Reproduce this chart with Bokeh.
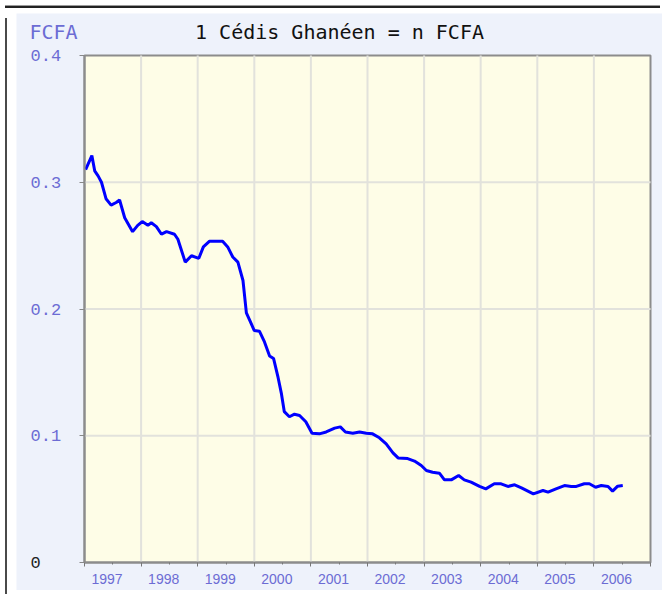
from bokeh.plotting import figure
from bokeh.models import Label, FixedTicker, Range1d, Div, CustomJSTickFormatter, LinearAxis
from bokeh.layouts import column, row
from bokeh.embed import file_html
from bokeh.resources import INLINE

# ---- data ----
dates = [1997.02, 1997.13, 1997.18, 1997.24, 1997.30, 1997.38, 1997.47, 1997.56, 1997.62, 1997.71,
         1997.85, 1997.94, 1998.02, 1998.12, 1998.18, 1998.27, 1998.36, 1998.45, 1998.59, 1998.65,
         1998.78, 1998.89, 1999.02, 1999.10, 1999.21, 1999.44, 1999.53, 1999.62, 1999.71, 1999.80,
         1999.86, 1999.92, 2000.00, 2000.09, 2000.18, 2000.27, 2000.34, 2000.42, 2000.48, 2000.53,
         2000.62, 2000.71, 2000.80, 2000.91, 2001.02, 2001.15, 2001.27, 2001.42, 2001.52, 2001.61,
         2001.74, 2001.86, 2001.98, 2002.09, 2002.21, 2002.33, 2002.45, 2002.54, 2002.71, 2002.83,
         2002.95, 2003.04, 2003.15, 2003.27, 2003.36, 2003.48, 2003.61, 2003.71, 2003.83, 2003.98,
         2004.09, 2004.24, 2004.36, 2004.48, 2004.60, 2004.72, 2004.93, 2005.10, 2005.19, 2005.33,
         2005.48, 2005.60, 2005.69, 2005.83, 2005.92, 2006.03, 2006.13, 2006.25, 2006.33, 2006.42,
         2006.51]
rates = [0.310, 0.321, 0.309, 0.305, 0.300, 0.287, 0.282, 0.284, 0.286, 0.272,
         0.261, 0.266, 0.269, 0.266, 0.268, 0.265, 0.259, 0.261, 0.259, 0.255,
         0.237, 0.242, 0.240, 0.249, 0.2535, 0.2535, 0.249, 0.241, 0.237, 0.2225,
         0.197, 0.191, 0.183, 0.1825, 0.174, 0.163, 0.161, 0.146, 0.133, 0.119,
         0.115, 0.117, 0.116, 0.111, 0.102, 0.1015, 0.103, 0.106, 0.107, 0.103,
         0.102, 0.103, 0.102, 0.1015, 0.0984, 0.0936, 0.0865, 0.0825, 0.082, 0.080,
         0.0765, 0.0726, 0.0712, 0.0705, 0.0652, 0.0652, 0.0686, 0.0652, 0.0634, 0.0600,
         0.0581, 0.0621, 0.0621, 0.0600, 0.0613, 0.0589, 0.0542, 0.0568, 0.0555, 0.0581,
         0.0607, 0.0600, 0.0600, 0.0621, 0.0621, 0.0594, 0.0607, 0.0600, 0.0563, 0.0602,
         0.0607]

year_bounds = list(range(1997, 2008))
year_mids = [y + 0.5 for y in range(1997, 2007)]
year_labels = [str(y) for y in range(1997, 2007)]
y_ticks = [0, 0.1, 0.2, 0.3, 0.4]
y_labels = ["0", "0.1", "0.2", "0.3", "0.4"]
title_text = "1 Cédis Ghanéen = n FCFA"
unit_text = "FCFA"

X_MIN, X_MAX = 1997, 2007
Y_MIN, Y_MAX = 0, 0.4

# ---- layout / style ----
PANEL = "#eef2fb"
PLOTBG = "#fefde7"
LABEL_BLUE = "#6c6cd4"
FRAME_GREY = "#8c8c8c"

FIG_W, FIG_H = 646, 577
M_LEFT, M_RIGHT, M_TOP, M_BOTTOM = 68, 12, 42, 28      # margins around the plotting area
AREA_W = FIG_W - M_LEFT - M_RIGHT
AREA_H = FIG_H - M_TOP - M_BOTTOM
xs = (X_MAX - X_MIN) / AREA_W
ys = (Y_MAX - Y_MIN) / AREA_H

p = figure(width=FIG_W, height=FIG_H,
           x_range=Range1d(X_MIN - M_LEFT * xs, X_MAX + M_RIGHT * xs),
           y_range=Range1d(Y_MIN - M_BOTTOM * ys, Y_MAX + M_TOP * ys),
           output_backend="svg", toolbar_location=None, title=None,
           x_axis_type=None, y_axis_type=None,
           min_border=0, border_fill_color=PANEL, background_fill_color=PANEL)
p.outline_line_color = None
p.grid.visible = False

# plotting area
p.quad(left=[X_MIN], right=[X_MAX], bottom=[Y_MIN], top=[Y_MAX],
       fill_color=PLOTBG, line_color=FRAME_GREY, line_width=2)

# grid lines
gx = year_bounds[1:-1]
p.segment(x0=gx, y0=[Y_MIN] * len(gx), x1=gx, y1=[Y_MAX] * len(gx),
          line_color="#e2e2dc", line_width=2)
gy = y_ticks[1:-1]
p.segment(x0=[X_MIN] * len(gy), y0=gy, x1=[X_MAX] * len(gy), y1=gy,
          line_color="#e2e2dc", line_width=2)

p.line(dates, rates, line_color="#0000ff", line_width=3)

empty = CustomJSTickFormatter(code="return ''")

xaxis = LinearAxis(fixed_location=Y_MIN, bounds=(X_MIN, X_MAX),
                   ticker=FixedTicker(ticks=year_bounds, minor_ticks=year_mids),
                   formatter=empty,
                   axis_line_color=FRAME_GREY, axis_line_width=2,
                   major_tick_line_color="#777777", major_tick_out=4, major_tick_in=0,
                   minor_tick_line_color="#777777", minor_tick_out=2, minor_tick_in=0)
p.add_layout(xaxis, "below")

yaxis = LinearAxis(fixed_location=X_MIN, bounds=(Y_MIN, Y_MAX),
                   ticker=FixedTicker(ticks=y_ticks), formatter=empty,
                   axis_line_color=FRAME_GREY, axis_line_width=2,
                   major_tick_line_color="#888888", major_tick_out=5, major_tick_in=0,
                   minor_tick_line_color=None)
p.add_layout(yaxis, "left")

# texts (screen units measured from the canvas' bottom-left corner)
TITLE_Y = FIG_H - 18
p.add_layout(Label(x=FIG_W / 2, y=TITLE_Y, x_units="screen", y_units="screen", text=title_text,
                   text_align="center", text_baseline="middle",
                   text_font="DejaVu Sans Mono", text_font_size="20px", text_color="#111111"))
p.add_layout(Label(x=13, y=TITLE_Y, x_units="screen", y_units="screen", text=unit_text,
                   text_align="left", text_baseline="middle",
                   text_font="DejaVu Sans Mono", text_font_size="20px", text_color=LABEL_BLUE))

for v, t in zip(y_ticks, y_labels):
    p.add_layout(Label(x=14, y=v, x_units="screen", y_units="data", text=t,
                       text_align="left", text_baseline="middle",
                       text_font="Liberation Mono", text_font_size="17px",
                       text_color="#222222" if v == 0 else LABEL_BLUE))

for yr, t in zip(year_bounds, year_labels):
    p.add_layout(Label(x=yr, y=M_BOTTOM - 16, x_units="data", y_units="screen", x_offset=7,
                       text=t, text_align="left", text_baseline="middle",
                       text_font="Liberation Sans", text_font_size="14px",
                       text_color=LABEL_BLUE))

top_bar = Div(width=655, height=2, styles={"border-top": "1px solid #9a9a9a",
                                           "border-bottom": "2px solid #222222"})
left_bar = Div(width=6, height=FIG_H, styles={"border-left": "2px solid #4a4a4a"})
layout = column(top_bar, row(left_bar, p, spacing=0), spacing=0)

open("out.html", "w").write(file_html(layout, INLINE))
